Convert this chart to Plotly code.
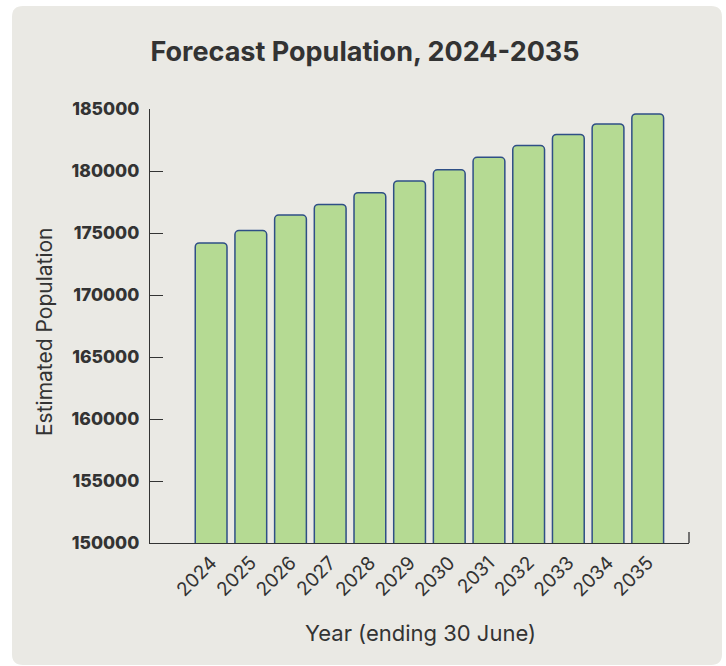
import plotly.graph_objects as go

# Forecast population by year ending 30 June
years = ["2024", "2025", "2026", "2027", "2028", "2029",
         "2030", "2031", "2032", "2033", "2034", "2035"]
population = [174200, 175200, 176450, 177300, 178250, 179200,
              180100, 181100, 182050, 182950, 183800, 184600]
y_ticks = [150000, 155000, 160000, 165000, 170000, 175000, 180000, 185000]

W, H = 726, 666
ML, MR, MT, MB = 150, 37, 109, 123
PW, PH = W - ML - MR, H - MT - MB

TEXT = "#333333"
CARD = "#EAE9E4"
FONT = "Inter, 'Open Sans', sans-serif"


def px_x(px):
    return (px - ML) / PW


def px_y(py):
    return (H - MB - py) / PH


def rounded_rect(x0, y0, x1, y1, r):
    """SVG path (paper units) for a rounded rectangle given in pixels."""
    pts = [
        ("M", x0 + r, y0), ("L", x1 - r, y0), ("Q", x1, y0, x1, y0 + r),
        ("L", x1, y1 - r), ("Q", x1, y1, x1 - r, y1), ("L", x0 + r, y1),
        ("Q", x0, y1, x0, y1 - r), ("L", x0, y0 + r), ("Q", x0, y0, x0 + r, y0),
    ]
    out = []
    for p in pts:
        cmd, coords = p[0], p[1:]
        xy = []
        for i in range(0, len(coords), 2):
            xy.append(f"{px_x(coords[i]):.5f},{px_y(coords[i + 1]):.5f}")
        out.append(cmd + " " + " ".join(xy))
    return " ".join(out) + " Z"


fig = go.Figure(
    go.Bar(
        x=years,
        y=population,
        width=0.8,
        marker=dict(color="#B5DA93", line=dict(color="#2F4F86", width=1.5)),
        hoverinfo="x+y",
    )
)

fig.update_layout(
    width=W,
    height=H,
    margin=dict(l=ML, r=MR, t=MT, b=MB),
    paper_bgcolor="white",
    plot_bgcolor="rgba(0,0,0,0)",
    barcornerradius=4,
    showlegend=False,
    font=dict(family=FONT, color=TEXT),
    title=dict(
        text="<b>Forecast Population, 2024-2035</b>",
        x=365 / W, xanchor="center",
        y=1 - 52 / H, yanchor="middle",
        font=dict(size=27, color=TEXT, family=FONT),
    ),
    xaxis=dict(
        type="category",
        range=[-1.54, 12.04],
        showline=True, linecolor=TEXT, linewidth=1.3,
        ticks="", showgrid=False, zeroline=False,
        tickangle=-45,
        tickfont=dict(size=19, color=TEXT, family=FONT),
    ),
    yaxis=dict(
        range=[150000, 185000],
        tickvals=y_ticks,
        ticktext=[str(v) for v in y_ticks],
        showline=True, linecolor=TEXT, linewidth=1.3,
        ticks="inside", ticklen=13, tickcolor=TEXT, tickwidth=1.3,
        ticklabelstandoff=6,
        showgrid=False, zeroline=False,
        tickfont=dict(size=17.5, color=TEXT, family=FONT, weight=800),
    ),
    shapes=[
        dict(type="path", xref="paper", yref="paper",
             path=rounded_rect(12, 6, 722, 665, 11),
             fillcolor=CARD, line=dict(width=0), layer="below"),
        dict(type="line", xref="paper", yref="paper",
             x0=1, x1=1, y0=0, y1=11 / PH,
             line=dict(color=TEXT, width=1.3)),
    ],
    annotations=[
        dict(text="Year (ending 30 June)", xref="paper", yref="paper",
             x=px_x(420), y=px_y(633), xanchor="center", yanchor="middle",
             showarrow=False, font=dict(size=22, color=TEXT, family=FONT)),
        dict(text="Estimated Population", xref="paper", yref="paper",
             x=px_x(44), y=px_y(332), xanchor="center", yanchor="middle",
             textangle=-90, showarrow=False,
             font=dict(size=21, color=TEXT, family=FONT)),
    ],
)

fig.write_html("out.html")
